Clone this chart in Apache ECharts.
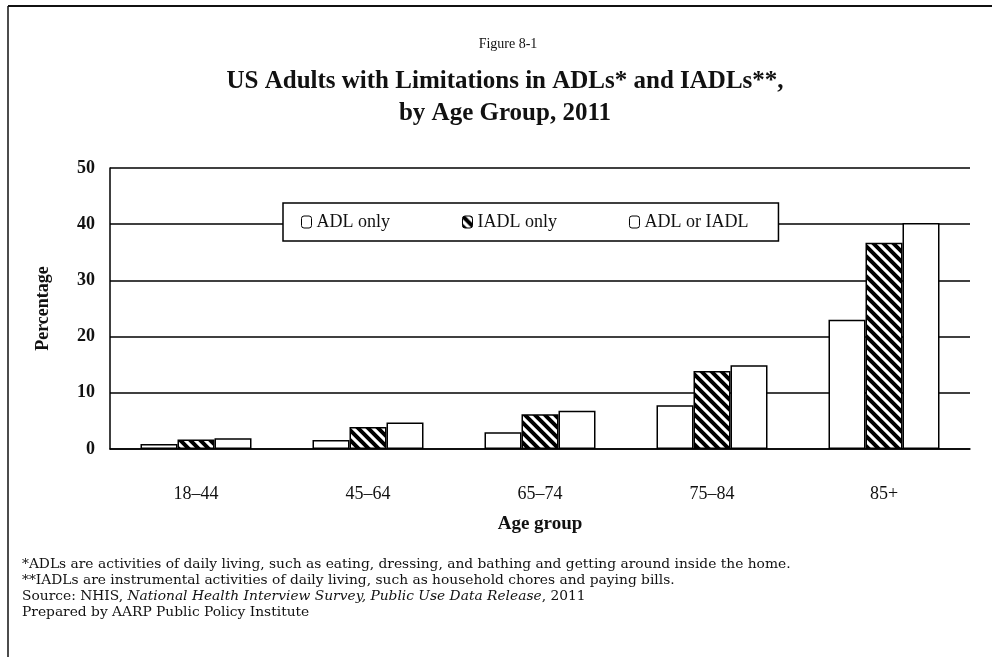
<!DOCTYPE html>
<html>
<head>
<meta charset="utf-8">
<script src="https://cdn.jsdelivr.net/npm/echarts@6/dist/echarts.min.js"></script>
<style>
  html, body { margin: 0; padding: 0; background: #fff; }
  #chart { width: 992px; height: 657px; }
</style>
</head>
<body>
<div id="chart"></div>
<script>
// Age groups and percentages of adults with limitations
const ageGroups = ['18\u201344', '45\u201364', '65\u201374', '75\u201384', '85+'];
const adlOnly = [0.9, 1.6, 3.0, 7.8, 23.0];
const iadlOnly = [1.7, 3.9, 6.2, 13.9, 36.7];
const adlOrIadl = [1.9, 4.7, 6.8, 14.9, 40.2];
const seriesNames = ['ADL only', 'IADL only', 'ADL or IADL'];
const yTicks = [0, 10, 20, 30, 40, 50];

const serif = '"Liberation Serif", "DejaVu Serif", serif';
const noteFont = '"DejaVu Serif", "Liberation Serif", serif';

// Diagonal hatch (top-left to bottom-right stripes) for the IADL-only bars
function hatch() {
  const c = document.createElement('canvas');
  const s = 20, step = 10;
  c.width = s; c.height = s;
  const g = c.getContext('2d');
  g.fillStyle = '#fff';
  g.fillRect(0, 0, s, s);
  g.strokeStyle = '#000';
  g.lineWidth = 4;
  g.lineCap = 'square';
  g.beginPath();
  for (let k = -3; k <= 3; k++) {
    g.moveTo(k * step - 5, -5);
    g.lineTo(k * step + s + 5, s + 5);
  }
  g.stroke();
  return c;
}
const hatchFill = { image: hatch(), repeat: 'repeat' };

const chart = echarts.init(document.getElementById('chart'));

function barSeries(name, data, fill) {
  return {
    name: name,
    type: 'bar',
    data: data,
    barWidth: 37,
    barGap: '0%',
    itemStyle: { color: fill, borderColor: '#000', borderWidth: 1.5 },
    emphasis: { disabled: true }
  };
}

chart.setOption({
  animation: false,
  backgroundColor: '#fff',
  title: [
    {
      text: 'Figure 8-1',
      left: 503, top: 32, textAlign: 'center',
      textStyle: { fontFamily: serif, fontSize: 14, fontWeight: 'normal', color: '#111' }
    },
    {
      text: 'US Adults with Limitations in ADLs* and IADLs**,\nby Age Group, 2011',
      left: 500, top: 61, textAlign: 'center',
      textStyle: { fontFamily: serif, fontSize: 25, fontWeight: 'bold', color: '#111', lineHeight: 32 }
    }
  ],
  legend: {
    data: seriesNames,
    left: 283, top: 203,
    itemWidth: 10, itemHeight: 12,
    itemGap: 72,
    padding: [10, 30, 10, 18],
    borderColor: '#000', borderWidth: 1.5,
    backgroundColor: '#fff',
    textStyle: { fontFamily: serif, fontSize: 18, color: '#111' },
    itemStyle: { borderColor: '#000', borderWidth: 1 }
  },
  grid: { left: 110, right: 22, top: 168, bottom: 208 },
  xAxis: {
    type: 'category',
    data: ageGroups,
    name: 'Age group',
    nameLocation: 'middle',
    nameGap: 66,
    nameTextStyle: { fontFamily: serif, fontSize: 19, fontWeight: 'bold', color: '#111' },
    axisLine: { show: true, lineStyle: { color: '#000', width: 1.5 } },
    axisTick: { show: false },
    axisLabel: { fontFamily: serif, fontSize: 18, color: '#111', margin: 36 }
  },
  yAxis: {
    type: 'value',
    min: yTicks[0], max: yTicks[yTicks.length - 1], interval: 10,
    name: 'Percentage',
    nameLocation: 'middle',
    nameGap: 58,
    nameTextStyle: { fontFamily: serif, fontSize: 18, fontWeight: 'bold', color: '#111' },
    axisLine: { show: true, lineStyle: { color: '#000', width: 1.5 } },
    axisTick: { show: false },
    axisLabel: { fontFamily: serif, fontSize: 18, fontWeight: 'bold', color: '#111', margin: 15 },
    splitLine: { show: true, lineStyle: { color: '#000', width: 1.5 } }
  },
  series: [
    barSeries(seriesNames[0], adlOnly, '#fff'),
    barSeries(seriesNames[1], iadlOnly, hatchFill),
    barSeries(seriesNames[2], adlOrIadl, '#fff')
  ],
  graphic: [
    // page frame
    { type: 'line', shape: { x1: 8, y1: 6, x2: 992, y2: 6 }, style: { stroke: '#111', lineWidth: 2 } },
    { type: 'line', shape: { x1: 8, y1: 6, x2: 8, y2: 657 }, style: { stroke: '#111', lineWidth: 1.5 } },
    // notes
    {
      type: 'text', left: 22, top: 556,
      style: {
        text: '*ADLs are activities of daily living, such as eating, dressing, and bathing and getting around inside the home.\n' +
              '**IADLs are instrumental activities of daily living, such as household chores and paying bills.\n' +
              'Source: NHIS, {i|National Health Interview Survey, Public Use Data Release}, 2011\n' +
              'Prepared by AARP Public Policy Institute',
        font: '13.8px ' + noteFont,
        fill: '#111',
        lineHeight: 16,
        rich: { i: { fontStyle: 'italic', fontFamily: noteFont, fontSize: 13.8, fill: '#111' } }
      }
    }
  ]
});
</script>
</body>
</html>
